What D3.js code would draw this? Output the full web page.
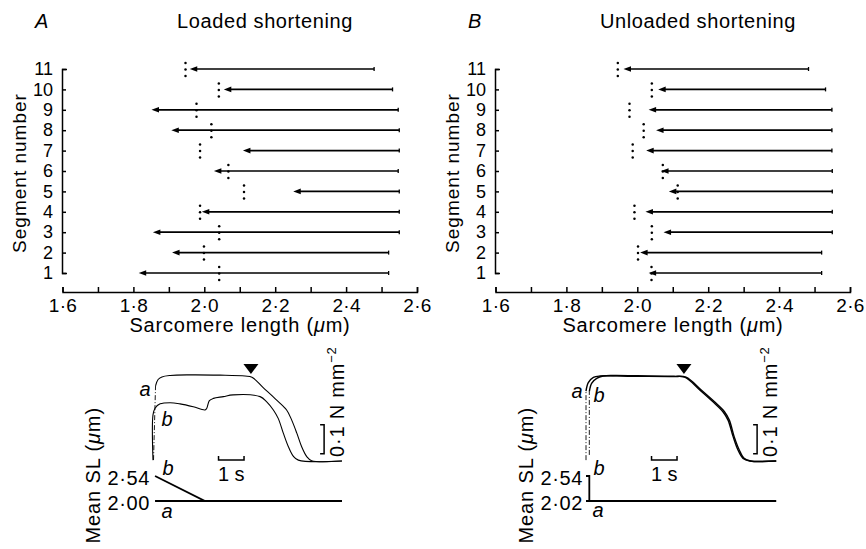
<!DOCTYPE html>
<html>
<head>
<meta charset="utf-8">
<script src="https://cdn.jsdelivr.net/npm/d3@7"></script>
<style>
  html, body { margin: 0; padding: 0; background: #fff; }
  svg { display: block; font-family: "Liberation Sans", Arial, Helvetica, sans-serif; }
</style>
</head>
<body>
<svg id="fig" width="866" height="549"></svg>
<script>
// ---- Segment sarcomere lengths (µm) ----
const segments = [1, 2, 3, 4, 5, 6, 7, 8, 9, 10, 11];

// Loaded shortening: start SL, end SL, and SL of the fixed-end reference (dotted)
const loadedStart = [2.52, 2.52, 2.55, 2.55, 2.55, 2.547, 2.55, 2.55, 2.547, 2.531, 2.479];
const loadedEnd   = [1.815, 1.909, 1.855, 1.993, 2.251, 2.027, 2.109, 1.907, 1.851, 2.055, 1.959];
const loadedRef   = [2.042, 1.999, 2.042, 1.988, 2.112, 2.068, 1.988, 2.020, 1.978, 2.041, 1.947];

// Unloaded shortening
const unloadedStart = [2.52, 2.52, 2.55, 2.55, 2.55, 2.55, 2.549, 2.549, 2.549, 2.531, 2.483];
const unloadedEnd   = [2.032, 2.008, 2.074, 2.023, 2.089, 2.067, 2.025, 2.053, 2.032, 2.059, 1.961];
const unloadedRef   = [2.040, 2.002, 2.041, 1.992, 2.114, 2.072, 1.987, 2.018, 1.978, 2.041, 1.945];

// Sarcomere-length axis ticks
const slTicks = [1.6, 1.7, 1.8, 1.9, 2.0, 2.1, 2.2, 2.3, 2.4, 2.5, 2.6];
const slTickLabels = { "1.6": "1·6", "1.8": "1·8", "2.0": "2·0", "2.2": "2·2", "2.4": "2·4", "2.6": "2·6" };

// ---- Force records: [time (s), force (N mm^-2)] ----
const forceLoadedA = [[0.02, 0.003], [0.10, 0.259], [0.20, 0.281], [0.35, 0.290], [0.67, 0.295],
  [1.45, 0.297], [2.63, 0.296], [3.61, 0.293], [3.88, 0.289], [4.31, 0.254], [4.85, 0.210],
  [5.24, 0.176], [5.44, 0.141], [5.64, 0.096], [5.83, 0.049], [6.03, 0.015], [6.22, 0.001], [7.41, 0.0]];
const forceLoadedB = [[0.0, 0.003], [0.0, 0.159], [0.08, 0.182], [0.28, 0.197], [0.67, 0.201],
  [1.06, 0.197], [1.58, 0.187], [2.04, 0.176], [2.11, 0.182], [2.21, 0.208], [2.37, 0.216],
  [2.76, 0.222], [3.14, 0.228], [4.20, 0.222], [4.46, 0.204], [4.72, 0.176], [4.91, 0.147],
  [5.11, 0.096], [5.31, 0.049], [5.50, 0.017], [5.70, 0.003], [7.41, 0.0]];
const forceUnloadedA = [[0.0, 0.003], [0.0, 0.241], [0.09, 0.270], [0.29, 0.288], [0.55, 0.293],
  [1.84, 0.292], [3.42, 0.291], [3.87, 0.289], [4.46, 0.245], [4.98, 0.204], [5.37, 0.170],
  [5.57, 0.141], [5.77, 0.084], [5.96, 0.038], [6.16, 0.009], [6.42, 0.0], [7.46, 0.0]];
const forceUnloadedB = [[0.13, 0.021], [0.13, 0.239], [0.22, 0.268], [0.42, 0.285], [0.67, 0.293],
  [1.06, 0.295], [2.0, 0.294], [3.45, 0.292], [3.92, 0.289], [4.52, 0.245], [5.04, 0.204],
  [5.43, 0.170], [5.62, 0.141], [5.81, 0.084], [6.01, 0.038], [6.20, 0.009], [6.46, 0.0], [7.46, 0.0]];

// ---- Mean sarcomere length records: [time (s), SL (µm)] ----
const slLoadedA = [[0.08, 2.00], [7.41, 2.00]];
const slLoadedB = [[0.08, 2.54], [2.04, 2.00], [7.41, 2.00]];
const slUnloadedA = [[0.0, 2.02], [7.46, 2.02]];
const slUnloadedB = [[0.0, 2.54], [0.13, 2.54], [0.13, 2.02]];
const slLoadedTicks = [2.00, 2.54];
const slLoadedTickLabels = ["2·00", "2·54"];
const slUnloadedTicks = [2.02, 2.54];
const slUnloadedTickLabels = ["2·02", "2·54"];

const releaseTime = [3.84, 3.84];      // time of release (▼)
const forceBar = [0.025, 0.125];       // 0·1 N mm^-2 calibration
const timeBar = [2.57, 3.57];          // 1 s calibration

const panels = [
  { letter: "A", title: "Loaded shortening", start: loadedStart, end: loadedEnd, ref: loadedRef,
    forceA: forceLoadedA, forceB: forceLoadedB, riseDashA: true, riseDashB: false,
    slA: slLoadedA, slB: slLoadedB, slTicks: slLoadedTicks, slLabels: slLoadedTickLabels,
    release: releaseTime[0], traceWidth: 1.1,
    labels: { fa: [145, 396], fb: [167, 426], sb: [168, 475], sa: [167, 518] } },
  { letter: "B", title: "Unloaded shortening", start: unloadedStart, end: unloadedEnd, ref: unloadedRef,
    forceA: forceUnloadedA, forceB: forceUnloadedB, riseDashA: true, riseDashB: true,
    slA: slUnloadedA, slB: slUnloadedB, slTicks: slUnloadedTicks, slLabels: slUnloadedTickLabels,
    release: releaseTime[1], traceWidth: 1.4,
    labels: { fa: [144, 398], fb: [166, 402], sb: [166, 475], sa: [165, 517] } }
];

const svg = d3.select("#fig");
const panelShift = [0, 433];

panels.forEach((p, i) => {
  const g = svg.append("g").attr("transform", `translate(${panelShift[i]},0)`);

  // Panel letter and title
  g.append("text").attr("x", 35).attr("y", 28).attr("font-size", 20)
    .attr("font-style", "italic").text(p.letter);
  g.append("text").attr("x", 265).attr("y", 28).attr("font-size", 20)
    .attr("letter-spacing", 0.6).attr("text-anchor", "middle").text(p.title);

  // ---- Upper plot: segment sarcomere lengths ----
  const x = d3.scaleLinear().domain([1.6, 2.6]).range([62.5, 417]);
  const y = d3.scaleLinear().domain([1, 11]).range([273, 69]);

  const xAxis = d3.axisBottom(x).tickValues(slTicks).tickSize(-5).tickSizeOuter(-5)
    .tickPadding(6.5).tickFormat(v => slTickLabels[v.toFixed(1)] || "");
  const gx = g.append("g").attr("transform", "translate(0,292)").call(xAxis);
  gx.attr("font-family", null).attr("font-size", 19);
  gx.selectAll("path, line").attr("stroke", "#000").attr("stroke-width", 1.5);
  gx.selectAll("text").attr("fill", "#000").attr("letter-spacing", 0.3);

  const yAxis = d3.axisLeft(y).tickValues(segments).tickSize(-4).tickSizeOuter(-5).tickPadding(9)
    .tickFormat(d3.format("d"));
  const gy = g.append("g").attr("transform", "translate(62,0)").call(yAxis);
  gy.attr("font-family", null).attr("font-size", 18);
  gy.selectAll("path, line").attr("stroke", "#000").attr("stroke-width", 1.5);
  gy.selectAll("text").attr("fill", "#000");

  const xt = g.append("text").attr("x", 240).attr("y", 332).attr("font-size", 20)
    .attr("letter-spacing", 0.8).attr("text-anchor", "middle");
  xt.append("tspan").text("Sarcomere length (");
  xt.append("tspan").attr("font-style", "italic").text("μ");
  xt.append("tspan").text("m)");

  g.append("text").attr("transform", "translate(26,173) rotate(-90)").attr("font-size", 19)
    .attr("letter-spacing", 1).attr("text-anchor", "middle").text("Segment number");

  const rows = segments.map((s, k) => ({ s, start: p.start[k], end: p.end[k], ref: p.ref[k] }));

  // Reference positions (three-dot markers)
  const dotOffsets = [-6, 0.5, 7];
  g.append("g").selectAll("g").data(rows).join("g")
    .selectAll("circle").data(d => dotOffsets.map(o => ({ cx: x(d.ref), cy: y(d.s) + o })))
    .join("circle").attr("cx", d => d.cx).attr("cy", d => d.cy).attr("r", 1.25).attr("fill", "#000");

  // Shortening arrows
  const arrows = g.append("g").selectAll("g").data(rows).join("g");
  arrows.append("line")
    .attr("x1", d => x(d.start)).attr("x2", d => x(d.end) + 5)
    .attr("y1", d => y(d.s)).attr("y2", d => y(d.s))
    .attr("stroke", "#000").attr("stroke-width", 1.7);
  arrows.append("path")
    .attr("d", d => `M${x(d.end)},${y(d.s)}l7.5,-2.8l0,5.6z`).attr("fill", "#000");
  arrows.append("line")
    .attr("x1", d => x(d.start)).attr("x2", d => x(d.start))
    .attr("y1", d => y(d.s) - 2).attr("y2", d => y(d.s) + 2)
    .attr("stroke", "#000").attr("stroke-width", 1.3);

  // ---- Lower plot: force and mean SL records ----
  const t = d3.scaleLinear().domain([0, 8]).range([153, 357]);
  const f = d3.scaleLinear().domain([0, 0.3]).range([461, 374]);
  const sl = d3.scaleLinear().domain([p.slTicks[0], 2.54]).range([501, 476]);

  const fLine = d3.line().x(d => t(d[0])).y(d => f(d[1])).curve(d3.curveCatmullRom.alpha(0.5));
  const fRise = d3.line().x(d => t(d[0])).y(d => f(d[1]));

  [[p.forceA, p.riseDashA], [p.forceB, p.riseDashB]].forEach(([pts, dashed]) => {
    if (dashed) {
      g.append("path").attr("d", fRise(pts.slice(0, 2))).attr("fill", "none")
        .attr("stroke", "#000").attr("stroke-width", 0.9).attr("stroke-dasharray", "5,2,1,2");
      g.append("path").attr("d", fLine(pts.slice(1))).attr("fill", "none")
        .attr("stroke", "#000").attr("stroke-width", p.traceWidth);
    } else {
      g.append("path").attr("d", fLine(pts)).attr("fill", "none")
        .attr("stroke", "#000").attr("stroke-width", p.traceWidth);
    }
  });

  const sLine = d3.line().x(d => t(d[0])).y(d => sl(d[1]));
  [p.slA, p.slB].forEach(pts => {
    g.append("path").attr("d", sLine(pts)).attr("fill", "none")
      .attr("stroke", "#000").attr("stroke-width", 1.8);
  });

  // SL tick labels
  g.append("g").selectAll("text").data(p.slTicks).join("text")
    .attr("x", t(0) - 3).attr("y", d => sl(d) + 2)
    .attr("dominant-baseline", "central").attr("text-anchor", "end")
    .attr("font-size", 20).attr("letter-spacing", 0.6)
    .text((d, k) => p.slLabels[k]);

  // Mean SL axis title
  const mt = g.append("text").attr("transform", "translate(100,407) rotate(-90)")
    .attr("font-size", 20).attr("letter-spacing", 0.9).attr("text-anchor", "end");
  mt.append("tspan").text("Mean SL (");
  mt.append("tspan").attr("font-style", "italic").text("μ");
  mt.append("tspan").text("m)");

  // Trace labels
  const lab = (pos, s) => g.append("text").attr("x", pos[0]).attr("y", pos[1])
    .attr("font-size", 20).attr("font-style", "italic").attr("text-anchor", "middle").text(s);
  lab(p.labels.fa, "a"); lab(p.labels.fb, "b"); lab(p.labels.sb, "b"); lab(p.labels.sa, "a");

  // Release marker ▼
  const rx = t(p.release), ry = f(0.30);
  g.append("path").attr("d", `M${rx - 7.5},${ry - 10}L${rx + 7.5},${ry - 10}L${rx},${ry}Z`).attr("fill", "#000");

  // Force calibration bar
  const bx = t(6.71);
  g.append("path")
    .attr("d", `M${bx - 4},${f(forceBar[1])}H${bx}V${f(forceBar[0])}H${bx - 4}`)
    .attr("fill", "none").attr("stroke", "#000").attr("stroke-width", 1.5);
  const ft = g.append("text").attr("transform", `translate(${bx + 19.5},457) rotate(-90)`)
    .attr("font-size", 20).attr("letter-spacing", 0.8);
  ft.append("tspan").text("0·1 N mm");
  ft.append("tspan").attr("font-size", 13).attr("dy", -8).text("−2");

  // Time calibration bar
  const by = f(0) - 1;
  g.append("path")
    .attr("d", `M${t(timeBar[0])},${by - 4}V${by}H${t(timeBar[1])}V${by - 4}`)
    .attr("fill", "none").attr("stroke", "#000").attr("stroke-width", 1.5);
  g.append("text").attr("x", t((timeBar[0] + timeBar[1]) / 2)).attr("y", 481)
    .attr("font-size", 20).attr("text-anchor", "middle").text("1 s");
});
</script>
</body>
</html>
